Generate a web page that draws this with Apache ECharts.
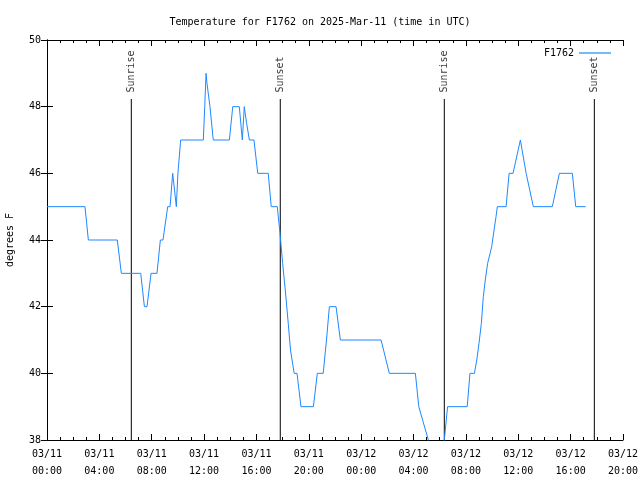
<!DOCTYPE html>
<html><head><meta charset="utf-8">
<script src="https://cdn.jsdelivr.net/npm/echarts@6/dist/echarts.min.js"></script>
<style>html,body{margin:0;padding:0;background:#fff}#c{width:640px;height:480px}</style>
</head><body><div id="c"></div>
<script>
// hours since 2025-03-11 00:00 UTC
const hours = [0,2.9,3.16,5.37,5.68,7.16,7.44,7.64,7.95,8.4,8.66,8.86,9.22,9.4,9.6,9.75,9.88,10.0,10.21,11.94,12.05,12.15,12.22,12.45,12.7,13.93,14.19,14.69,14.92,15.07,15.25,15.46,15.81,16.1,16.9,17.13,17.59,17.8,18.0,18.2,18.43,18.6,18.88,19.1,19.4,20.35,20.65,21.1,21.35,21.57,22.08,22.41,25.52,26.15,28.14,28.4,28.55,29.13,29.4,30.3,30.35,30.6,32.1,32.31,32.65,32.83,33.0,33.18,33.33,33.48,33.66,33.97,34.15,34.3,34.4,35.07,35.3,35.6,36.16,36.31,36.6,37.15,38.6,39.14,40.13,40.39,41.15];
const temps = [45,45,44,44,43,43,42,42,43,43,44,44,45,45,46,46,45,46,47,47,48,49,48.7,48,47,47,48,48,47,48,47.5,47,47,46,46,45,45,44.2,43.3,42.5,41.5,40.7,40,40,39,39,40,40,41,42,42,41,41,40,40,39,39,38,37,37,38,39,39,40,40,40.4,40.9,41.5,42.3,42.8,43.3,43.8,44.3,44.7,45,45,46,46,47,47,46,45,45,46,46,45,45];
const sunNames = ['Sunrise','Sunset','Sunrise','Sunset'];
const sunHours = [6.44,17.82,30.35,41.81];
const xTickLabels = ['03/11\n00:00','03/11\n04:00','03/11\n08:00','03/11\n12:00','03/11\n16:00','03/11\n20:00','03/12\n00:00','03/12\n04:00','03/12\n08:00','03/12\n12:00','03/12\n16:00','03/12\n20:00'];
const yTicks = [38,40,42,44,46,48,50];
const seriesName = 'F1762';

const FONT = '"DejaVu Sans Mono", monospace';
const chart = echarts.init(document.getElementById('c'), null, {renderer:'canvas'});
const sunTop = 48.23;
const sunSeries = sunNames.map((n,i)=>({
  type:'line', name:'sun'+i, silent:true, symbol:'none', showSymbol:false,
  lineStyle:{color:'#000',width:1}, z:1,
  data:[[sunHours[i],yTicks[0]],[sunHours[i],sunTop]],
  emphasis:{disabled:true}
}));
const sunLabels = {
  type:'scatter', name:'sunLabels', silent:true, symbol:'rect', symbolSize:1, z:2,
  itemStyle:{color:'rgba(0,0,0,0)'},
  data:sunNames.map((n,i)=>[sunHours[i],sunTop,n]),
  label:{show:true,formatter:p=>p.value[2],position:'top',rotate:90,align:'left',verticalAlign:'middle',
    distance:6,fontFamily:FONT,fontSize:10,color:'#000'},
  emphasis:{disabled:true}
};
const axisCommon = {
  type:'value', min:0, max:44, interval:4,
  axisLine:{show:true,lineStyle:{color:'#000',width:1}},
  axisTick:{show:true,inside:true,length:6,lineStyle:{color:'#000'}},
  minorTick:{show:true,splitNumber:4,length:3,lineStyle:{color:'#000'}},
  splitLine:{show:false}, minorSplitLine:{show:false}
};
chart.setOption({
  animation:false,
  backgroundColor:'#fff',
  title:{text:'Temperature for '+seriesName+' on 2025-Mar-11 (time in UTC)',left:'center',top:12,
    textStyle:{fontFamily:FONT,fontSize:10,fontWeight:'normal',color:'#000'}},
  legend:{data:[{name:seriesName,icon:'rect'}],right:24,top:43,align:'right',itemWidth:32,itemHeight:1.2,itemGap:6,
    textStyle:{fontFamily:FONT,fontSize:10,color:'#000'}},
  grid:{left:47,right:17,top:40,bottom:40,containLabel:false,outerBoundsMode:'none'},
  xAxis:[
    Object.assign({},axisCommon,{position:'bottom',
      axisLabel:{show:true,margin:6,fontFamily:FONT,fontSize:10,color:'#000',lineHeight:17,
        formatter:v=>xTickLabels[Math.round(v/4)]}}),
    Object.assign({},axisCommon,{position:'top',axisLabel:{show:false}})
  ],
  yAxis:[
    {type:'value',min:38,max:50,interval:2,position:'left',
      name:'degrees F',nameLocation:'middle',nameGap:32,
      nameTextStyle:{fontFamily:FONT,fontSize:10,color:'#000'},
      axisLine:{show:true,lineStyle:{color:'#000'}},
      axisTick:{show:true,inside:true,length:6,lineStyle:{color:'#000'}},
      axisLabel:{margin:6,fontFamily:FONT,fontSize:10,color:'#000'},
      splitLine:{show:false}},
    {type:'value',min:38,max:50,interval:2,position:'right',
      axisLine:{show:true,lineStyle:{color:'#000'}},
      axisTick:{show:true,inside:true,length:6,lineStyle:{color:'#000'}},
      axisLabel:{show:false},splitLine:{show:false}}
  ],
  series:[
    {type:'line',name:seriesName,symbol:'none',showSymbol:false,clip:true,z:3,
      color:'#1e88ff',lineStyle:{color:'#1e88ff',width:1},
      data:hours.map((h,i)=>[h,temps[i]])}
  ].concat(sunSeries,[sunLabels])
});
</script></body></html>
